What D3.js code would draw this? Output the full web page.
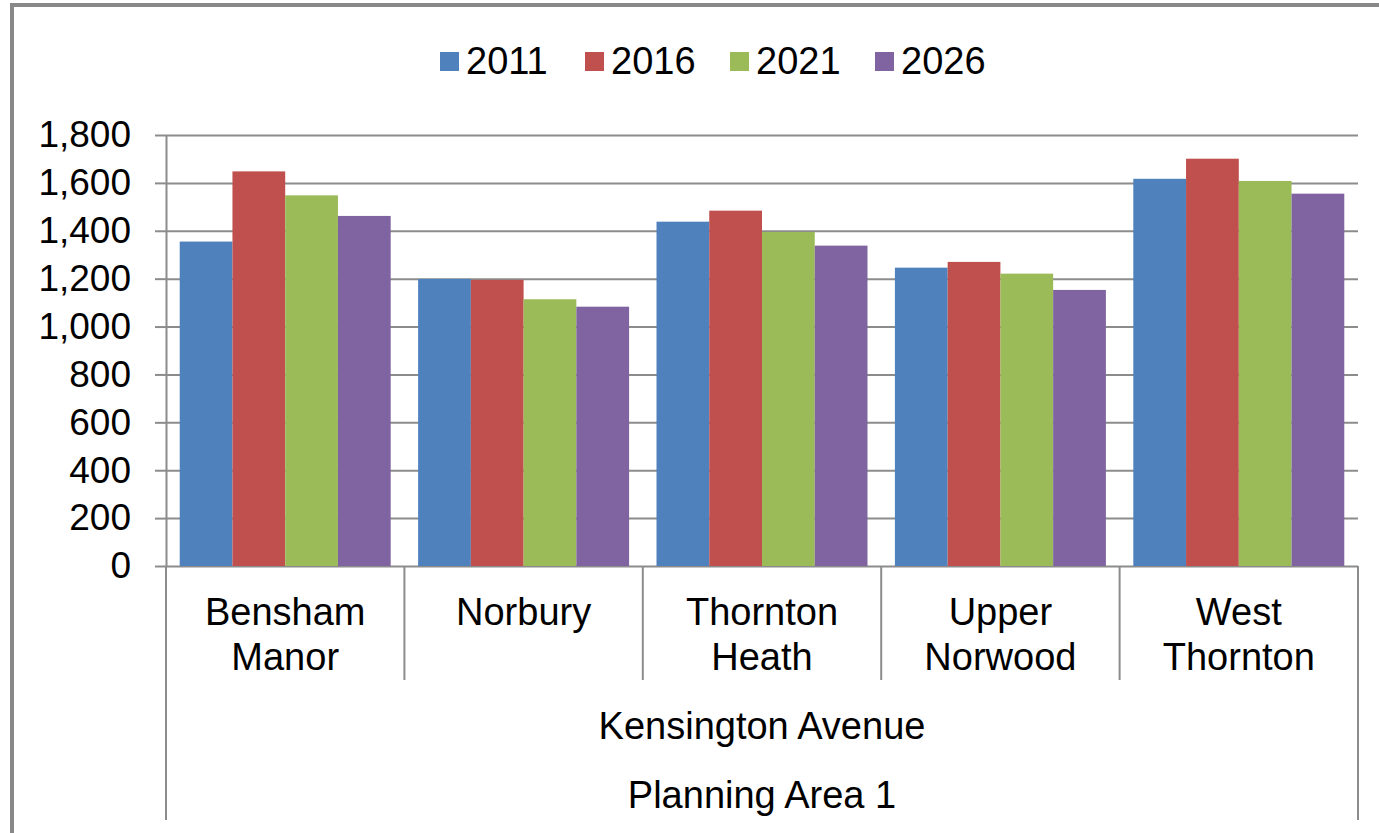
<!DOCTYPE html>
<html>
<head>
    <title>Ward population projections</title>
    <script src="https://d3js.org/d3.v7.min.js"></script>
    <style>
        body { margin: 0; background: #fff; }
        svg text { font-family: "Liberation Sans", Arial, sans-serif; fill: #000; }
    </style>
</head>
<body>
<svg width="1379" height="833"></svg>

<script>
// data
const wards = ["Bensham Manor", "Norbury", "Thornton Heath", "Upper Norwood", "West Thornton"];
const wardLines = [["Bensham", "Manor"], ["Norbury"], ["Thornton", "Heath"], ["Upper", "Norwood"], ["West", "Thornton"]];
const years = ["2011", "2016", "2021", "2026"];
const pop2011 = [1355, 1199, 1438, 1246, 1617];
const pop2016 = [1648, 1195, 1484, 1270, 1701];
const pop2021 = [1548, 1114, 1395, 1221, 1608];
const pop2026 = [1462, 1083, 1338, 1153, 1555];
const yTicks = [0, 200, 400, 600, 800, 1000, 1200, 1400, 1600, 1800];
const groupLabels = ["Kensington Avenue", "Planning Area 1"];

const colors = ["#4F81BD", "#C0504D", "#9BBB59", "#8064A2"];
const series = [pop2011, pop2016, pop2021, pop2026];

const svg = d3.select("svg");
const plotLeft = 166, plotRight = 1358, plotTop = 135, plotBottom = 566;

// outer frame (only top and left visible)
svg.append("path")
    .attr("d", "M12,833 V5 H1379")
    .attr("fill", "none")
    .attr("stroke", "#888")
    .attr("stroke-width", 4);

const x0 = d3.scaleBand().domain(wards).range([plotLeft, plotRight]).padding(0);
const gap = x0.bandwidth() * 0.0575;
const x1 = d3.scaleBand().domain(years).range([gap, x0.bandwidth() - gap]).padding(0);
const y = d3.scaleLinear().domain([0, 1800]).range([plotBottom, plotTop]);
const color = d3.scaleOrdinal().domain(years).range(colors);

// gridlines
const grid = svg.append("g")
    .attr("transform", "translate(" + plotLeft + ",0)")
    .call(d3.axisLeft(y).tickValues(yTicks).tickSize(-(plotRight - plotLeft)).tickFormat(""));
grid.select(".domain").remove();
grid.selectAll("line").attr("stroke", "#8c8c8c").attr("stroke-width", 2);

// y axis
const yAxis = svg.append("g")
    .attr("transform", "translate(" + plotLeft + ",0)")
    .call(d3.axisLeft(y).tickValues(yTicks).tickSize(11).tickPadding(24).tickFormat(d3.format(",")));
yAxis.select(".domain").attr("stroke", "#8c8c8c").attr("stroke-width", 2).attr("d", "M0.5," + plotTop + "V" + plotBottom);
yAxis.selectAll("line").attr("stroke", "#8c8c8c").attr("stroke-width", 2);
yAxis.selectAll("text")
    .style("font-family", "'Liberation Sans', Arial, sans-serif")
    .style("font-size", "37px")
    .attr("fill", "#000");

// bars
const groups = svg.append("g").selectAll("g")
    .data(wards)
    .join("g")
    .attr("transform", d => "translate(" + x0(d) + ",0)");

groups.selectAll("rect")
    .data((d, i) => years.map((yr, j) => ({year: yr, value: series[j][i]})))
    .join("rect")
    .attr("x", d => x1(d.year))
    .attr("y", d => y(d.value))
    .attr("width", x1.bandwidth())
    .attr("height", d => plotBottom - y(d.value))
    .attr("fill", d => color(d.year));

// category axis lines
const axisG = svg.append("g");
const bounds = wards.map(w => x0(w)).concat([plotRight]);
axisG.selectAll("line")
    .data(bounds)
    .join("line")
    .attr("x1", d => d)
    .attr("x2", d => d)
    .attr("y1", plotBottom)
    .attr("y2", (d, i) => (i === 0 || i === bounds.length - 1) ? 820 : 680)
    .attr("stroke", "#8c8c8c")
    .attr("stroke-width", 2);

// category labels
const labels = svg.append("g").selectAll("text")
    .data(wardLines)
    .join("text")
    .attr("text-anchor", "middle")
    .style("font-size", "38px");
labels.selectAll("tspan")
    .data((d, i) => d.map(t => ({t: t, cx: x0(wards[i]) + x0.bandwidth() / 2})))
    .join("tspan")
    .attr("x", d => d.cx)
    .attr("y", (d, i) => 625 + i * 45)
    .text(d => d.t);

svg.append("g").selectAll("text")
    .data(groupLabels)
    .join("text")
    .attr("x", (plotLeft + plotRight) / 2)
    .attr("y", (d, i) => 739 + i * 69)
    .attr("text-anchor", "middle")
    .style("font-size", "38px")
    .text(d => d);

// legend
const legend = svg.append("g").selectAll("g")
    .data(years)
    .join("g")
    .attr("transform", (d, i) => "translate(" + (440 + i * 145) + ",52)");
legend.append("rect")
    .attr("width", 19)
    .attr("height", 19)
    .attr("fill", d => color(d));
legend.append("text")
    .attr("x", 26)
    .attr("y", 22)
    .style("font-size", "38px")
    .text(d => d);
</script>
</body>
</html>
